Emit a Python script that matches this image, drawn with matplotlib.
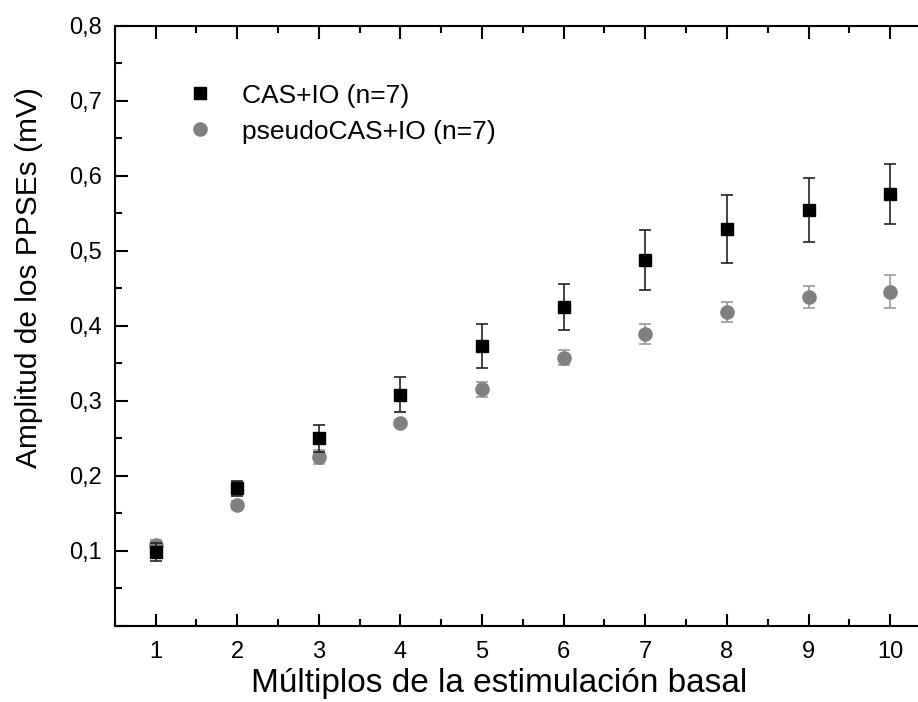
import matplotlib
matplotlib.use("Agg")
import matplotlib.pyplot as plt
from matplotlib.ticker import MultipleLocator, FuncFormatter
from matplotlib.lines import Line2D

plt.rcParams['font.family'] = ['Liberation Sans', 'DejaVu Sans']

x = [1, 2, 3, 4, 5, 6, 7, 8, 9, 10]
cas = [0.098, 0.183, 0.250, 0.308, 0.373, 0.425, 0.487, 0.529, 0.554, 0.576]
cas_err = [0.012, 0.010, 0.018, 0.023, 0.029, 0.031, 0.040, 0.045, 0.043, 0.040]
pseudo = [0.107, 0.161, 0.225, 0.270, 0.315, 0.357, 0.389, 0.418, 0.438, 0.445]
pseudo_err = [0.007, 0.005, 0.009, 0.004, 0.010, 0.010, 0.013, 0.013, 0.015, 0.022]
labels = ['CAS+IO (n=7)', 'pseudoCAS+IO (n=7)']

W, H = 918, 702
fig = plt.figure(figsize=(W / 100, H / 100), dpi=100)
l, r, b, t = 114.7, 931, 625.7, 25.7
ax = fig.add_axes([l / W, (H - b) / H, (r - l) / W, (b - t) / H])

ax.errorbar(x, pseudo, yerr=pseudo_err, fmt='o', color='#808080', ecolor='#999999',
            markersize=9.5, capsize=4.3, elinewidth=1.2, capthick=1.2, zorder=2)
ax.errorbar(x, cas, yerr=cas_err, fmt='s', color='black', ecolor='#222222',
            markersize=8.5, capsize=4.3, elinewidth=1.2, capthick=1.2, zorder=3)

ax.set_xlim(0.5, 10.5)
ax.set_ylim(0, 0.8)
ax.xaxis.set_major_locator(MultipleLocator(1))
ax.xaxis.set_minor_locator(MultipleLocator(0.5))
ax.yaxis.set_major_locator(MultipleLocator(0.1))
ax.yaxis.set_minor_locator(MultipleLocator(0.05))
ax.yaxis.set_major_formatter(FuncFormatter(lambda v, p: ('%.1f' % v).replace('.', ',') if v > 0.01 else ''))
ax.tick_params(which='both', direction='in', top=True, right=True, labelsize=17, width=1.5)
ax.tick_params(axis='x', pad=11)
ax.tick_params(axis='y', pad=9)
ax.tick_params(which='major', length=9)
ax.tick_params(which='minor', length=5)
for s in ax.spines.values():
    s.set_linewidth(1.5)

ax.set_xlabel('Múltiplos de la estimulación basal', fontsize=24)
ax.set_ylabel('Amplitud de los PPSEs (mV)', fontsize=21.5)
ax.xaxis.set_label_coords((499 - l) / (r - l), (b - 668) / (b - t))
ax.yaxis.set_label_coords((43 - l) / (r - l), (b - 278) / (b - t))

handles = [Line2D([], [], ls='none', marker='s', color='black', markersize=8.5),
           Line2D([], [], ls='none', marker='o', color='#808080', markersize=9.5)]
ax.legend(handles, labels, loc='upper left', bbox_to_anchor=(0.051, 0.943),
          frameon=False, fontsize=19, handletextpad=0.83, labelspacing=0.45, handlelength=1.5)

fig.savefig('out.png', dpi=100)
